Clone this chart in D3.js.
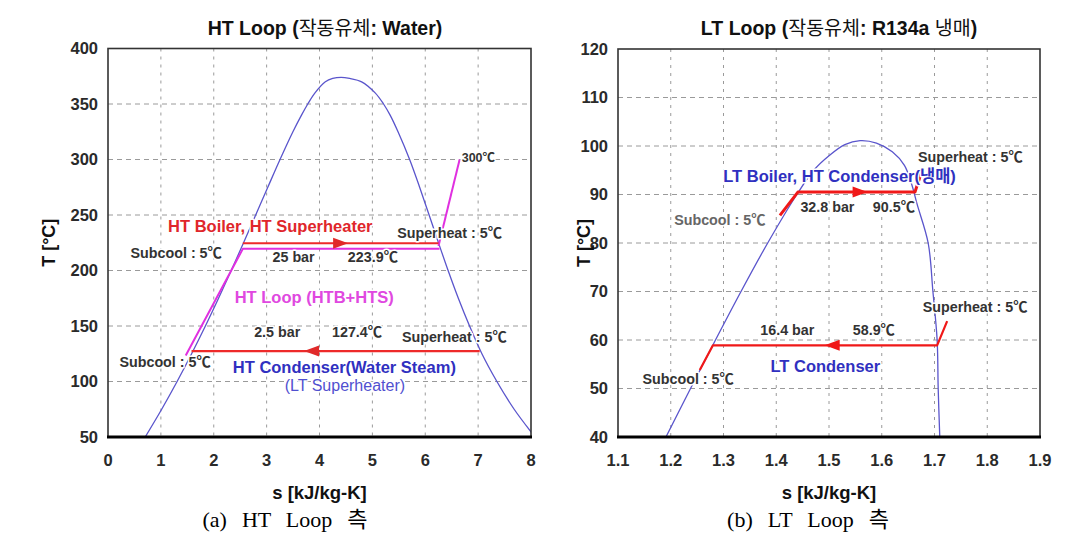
<!DOCTYPE html>
<html>
<head>
<meta charset="utf-8">
<script src="https://cdn.jsdelivr.net/npm/d3@7"></script>
<style>
body{margin:0;background:#fff;}
svg{display:block;}
</style>
</head>
<body>
<svg id="c" width="1080" height="545"></svg>
<script>
// ---------------- DATA ----------------
// HT loop (water) saturation dome: [s, T]
const htDomeLiquid = [[0.7038,50],[1.0155,75],[1.3069,100],[1.5813,125],[1.8418,150],[2.0909,175],[2.3309,200],[2.5639,225],[2.793,250],[3.0221,275],[3.2534,300],[3.4972,325],[3.6594,340],[3.7784,350],[3.9147,360],[4.1106,370],[4.25,373],[4.407,374]];
const htDomeVapor  = [[4.407,374],[4.57,373],[4.797,370],[5.0526,360],[5.2112,350],[5.3357,340],[5.4851,325],[5.7045,300],[5.8938,275],[6.073,250],[6.2503,225],[6.4323,200],[6.6256,175],[6.8379,150],[7.0713,125],[7.3549,100],[7.6812,75],[8.0763,50]];
const htLoopMagenta = [[1.47,123.5],[2.55,219.5],[6.27,219.5]];
const htSuperheatLine = [[6.25,222],[6.65,300]];
const htBoilerLine = [[2.55,224.5],[6.25,224.5]];
const htCondenserLine = [[7.03,127.4],[1.58,127.4]];
const htArrows = [{s:4.4,T:224.5,dir:1},{s:3.85,T:127.4,dir:-1}];
const htXTicks = [0,1,2,3,4,5,6,7,8];
const htYTicks = [50,100,150,200,250,300,350,400];
const htLabels = [
  {text:"300℃", s:6.69, T:302, cls:"small", anchor:"start"},
  {text:"HT Boiler, HT Superheater", s:3.07, T:240, cls:"red"},
  {text:"Superheat : 5℃", s:6.46, T:233.8, cls:"note"},
  {text:"Subcool : 5℃", s:1.29, T:215.8, cls:"note"},
  {text:"25 bar", s:3.51, T:212.2, cls:"note"},
  {text:"223.9℃", s:5.01, T:212.2, cls:"note"},
  {text:"HT Loop (HTB+HTS)", s:3.9, T:176.1, cls:"mag"},
  {text:"2.5 bar", s:3.2, T:144.6, cls:"note"},
  {text:"127.4℃", s:4.71, T:144.6, cls:"note"},
  {text:"Superheat : 5℃", s:6.55, T:140.1, cls:"note"},
  {text:"Subcool : 5℃", s:1.08, T:117.6, cls:"note"},
  {text:"HT Condenser(Water Steam)", s:4.47, T:113.1, cls:"blue"},
  {text:"(LT Superheater)", s:4.48, T:96.9, cls:"blue2"}
];

// LT loop (R134a) saturation dome: [s, T]
const ltDomeLiquid = [[1.1909,40],[1.2375,50],[1.2848,60],[1.3332,70],[1.3838,80],[1.439,90],[1.471,95],[1.50,98],[1.53,100.3],[1.559,101.1]];
const ltDomeVapor  = [[1.559,101.1],[1.59,100.6],[1.62,98.8],[1.643,96],[1.657,92],[1.667,88],[1.688,80],[1.697,70],[1.705,60],[1.707,50],[1.710,40]];
const ltBoilerLine = [[1.407,85.7],[1.441,90.5],[1.663,90.5],[1.678,95.5]];
const ltCondenserLine = [[1.724,63.9],[1.705,58.9],[1.28,58.9],[1.255,53.8]];
const ltArrows = [{s:1.559,T:90.5,dir:1},{s:1.506,T:58.9,dir:-1}];
const ltXTicks = [1.1,1.2,1.3,1.4,1.5,1.6,1.7,1.8,1.9];
const ltYTicks = [40,50,60,70,80,90,100,110,120];
const ltLabels = [
  {text:"LT Boiler, HT Condenser(냉매)", s:1.52, T:93.8, cls:"blue"},
  {text:"Superheat : 5℃", s:1.768, T:97.7, cls:"note"},
  {text:"32.8 bar", s:1.497, T:87.4, cls:"note"},
  {text:"90.5℃", s:1.623, T:87.4, cls:"note"},
  {text:"Subcool : 5℃", s:1.293, T:84.7, cls:"grey"},
  {text:"Superheat : 5℃", s:1.777, T:66.8, cls:"note"},
  {text:"16.4 bar", s:1.421, T:62.1, cls:"note"},
  {text:"58.9℃", s:1.585, T:62.1, cls:"note"},
  {text:"LT Condenser", s:1.493, T:54.6, cls:"blue"},
  {text:"Subcool : 5℃", s:1.233, T:52.0, cls:"note"}
];

const titles = ["HT Loop (", "작동유체", ": Water)"];
const titles2 = ["LT Loop (", "작동유체", ": R134a ", "냉매", ")"];
const xTitle = "s [kJ/kg-K]";
const yTitle = "T [°C]";
const captions = ["(a)  HT  Loop  측", "(b)  LT  Loop  측"];

// ---------------- DRAW ----------------
const svg = d3.select("#c");
const sans = "'Liberation Sans', Arial, 'Noto Sans CJK KR', sans-serif";

const styles = {
  note:{fill:"#333", size:14.3, weight:"bold"},
  small:{fill:"#333", size:12.5, weight:"bold"},
  grey:{fill:"#666", size:14.3, weight:"bold"},
  red:{fill:"#e0262b", size:16.5, weight:"bold"},
  mag:{fill:"#e048e0", size:16.5, weight:"bold"},
  blue:{fill:"#3030c0", size:16.5, weight:"bold"},
  blue2:{fill:"#5050d0", size:16, weight:"normal"}
};

function panel(cfg){
  const x = d3.scaleLinear().domain(cfg.xDomain).range([cfg.x0, cfg.x1]);
  const y = d3.scaleLinear().domain(cfg.yDomain).range([cfg.y1, cfg.y0]);
  const g = svg.append("g");
  const clipId = "clip" + cfg.id;
  svg.append("clipPath").attr("id", clipId).append("rect")
    .attr("x", cfg.x0).attr("y", cfg.y0).attr("width", cfg.x1-cfg.x0).attr("height", cfg.y1-cfg.y0);

  // grid
  g.selectAll(".vg").data(cfg.xTicks.slice(1,-1)).join("line")
    .attr("x1", d=>x(d)).attr("x2", d=>x(d)).attr("y1", cfg.y0).attr("y2", cfg.y1)
    .attr("stroke","#9a9a9a").attr("stroke-width",1).attr("stroke-dasharray","3,5");
  g.selectAll(".hg").data(cfg.yTicks.slice(1,-1)).join("line")
    .attr("y1", d=>y(d)).attr("y2", d=>y(d)).attr("x1", cfg.x0).attr("x2", cfg.x1)
    .attr("stroke","#9a9a9a").attr("stroke-width",1).attr("stroke-dasharray","5,4");

  // tick labels
  g.selectAll(".yt").data(cfg.yTicks).join("text")
    .attr("x", cfg.x0-10).attr("y", d=>y(d)).attr("dy","0.36em")
    .attr("text-anchor","end").attr("font-family",sans).attr("font-size",16.5)
    .attr("font-weight","bold").attr("fill","#2a2a2a").text(d=>d);
  g.selectAll(".xt").data(cfg.xTicks).join("text")
    .attr("x", d=>x(d)).attr("y", cfg.y1+29)
    .attr("text-anchor","middle").attr("font-family",sans).attr("font-size",16.5)
    .attr("font-weight","bold").attr("fill","#2a2a2a").text(d=>cfg.fmt(d));

  const line = d3.line().x(d=>x(d[0])).y(d=>y(d[1]));
  const curve = d3.line().x(d=>x(d[0])).y(d=>y(d[1])).curve(d3.curveCatmullRom.alpha(0.5));
  const cg = g.append("g").attr("clip-path", `url(#${clipId})`);

  // dome
  cg.append("path").attr("d", curve(cfg.domeL.concat(cfg.domeV.slice(1))))
    .attr("fill","none").attr("stroke","#5a55cc").attr("stroke-width",1.3);

  cfg.paths.forEach(p=>{
    cg.append("path").attr("d", line(p.data)).attr("fill","none")
      .attr("stroke", p.color).attr("stroke-width", p.width).attr("stroke-linejoin","round");
  });

  // arrows
  cg.selectAll(".arr").data(cfg.arrows).join("path")
    .attr("d", d=>{ const L=cfg.arrowL, Wd=cfg.arrowW; return `M${L/2*d.dir},0L${-L/2*d.dir},${-Wd/2}L${-L/2*d.dir},${Wd/2}Z`; })
    .attr("transform", d=>`translate(${x(d.s)},${y(d.T)})`)
    .attr("fill", cfg.arrowColor);

  // labels
  g.selectAll(".lab").data(cfg.labels).join("text")
    .attr("x", d=>x(d.s)).attr("y", d=>y(d.T)).attr("dy","0.35em")
    .attr("text-anchor", d=>d.anchor||"middle")
    .attr("font-family", sans)
    .attr("font-size", d=>styles[d.cls].size)
    .attr("font-weight", d=>styles[d.cls].weight)
    .attr("fill", d=>styles[d.cls].fill)
    .attr("stroke","#fff").attr("stroke-width",3).attr("paint-order","stroke")
    .attr("stroke-linejoin","round")
    .text(d=>d.text);

  // frame
  g.append("rect").attr("x",cfg.x0).attr("y",cfg.y0).attr("width",cfg.x1-cfg.x0).attr("height",cfg.y1-cfg.y0)
    .attr("fill","none").attr("stroke","#333").attr("stroke-width",1.6);
  g.append("line").attr("x1",cfg.x0-1).attr("x2",cfg.x1+1).attr("y1",cfg.y1).attr("y2",cfg.y1)
    .attr("stroke","#000").attr("stroke-width",3);

  // title
  const t = g.append("text").attr("x", cfg.titleX).attr("y", 35).attr("text-anchor","middle")
    .attr("font-family", sans).attr("font-size",19.5).attr("fill","#111");
  cfg.title.forEach((s,i)=>{
    t.append("tspan").attr("font-weight", /[가-힣]/.test(s) ? "normal" : "bold")
      .attr("font-family", /[가-힣]/.test(s) ? "'Noto Sans CJK KR', sans-serif" : sans).text(s);
  });

  // axis titles
  g.append("text").attr("transform",`translate(${cfg.yTitleX},${(cfg.y0+cfg.y1)/2}) rotate(-90)`)
    .attr("text-anchor","middle").attr("font-family",sans).attr("font-size",18).attr("font-weight","bold")
    .attr("fill","#111").text(yTitle);
  g.append("text").attr("x",(cfg.x0+cfg.x1)/2).attr("y",499).attr("text-anchor","middle")
    .attr("font-family",sans).attr("font-size",18.5).attr("font-weight","bold").attr("fill","#111").text(xTitle);
  g.append("text").attr("x",cfg.capX).attr("y",527).attr("text-anchor","middle")
    .attr("font-family","'Liberation Serif','DejaVu Serif','Noto Sans CJK KR',serif").attr("font-size",22)
    .attr("word-spacing",2)
    .attr("fill","#000").attr("xml:space","preserve").style("white-space","pre").text(cfg.caption);
}

panel({
  id:"a", x0:108, x1:531, y0:48.5, y1:437,
  xDomain:[0,8], yDomain:[50,400], xTicks:htXTicks, yTicks:htYTicks, fmt:d=>d,
  domeL:htDomeLiquid, domeV:htDomeVapor,
  paths:[
    {data:htLoopMagenta, color:"#e030e0", width:2},
    {data:htSuperheatLine, color:"#e030e0", width:2},
    {data:htBoilerLine, color:"#ee2a2a", width:2},
    {data:htCondenserLine, color:"#ee2a2a", width:2.2}
  ],
  arrows:htArrows, arrowL:15, arrowW:11, arrowColor:"#e02a2a",
  labels:htLabels, title:titles, titleX:325, yTitleX:55, capX:285, caption:captions[0]
});
panel({
  id:"b", x0:618, x1:1040, y0:49, y1:437,
  xDomain:[1.1,1.9], yDomain:[40,120], xTicks:ltXTicks, yTicks:ltYTicks, fmt:d3.format(".1f"),
  domeL:ltDomeLiquid, domeV:ltDomeVapor,
  paths:[
    {data:ltBoilerLine, color:"#f01818", width:3},
    {data:ltCondenserLine, color:"#f01818", width:2.2}
  ],
  arrows:ltArrows, arrowL:15, arrowW:11, arrowColor:"#f01818",
  labels:ltLabels, title:titles2, titleX:839, yTitleX:590, capX:808, caption:captions[1]
});
</script>
</body>
</html>
